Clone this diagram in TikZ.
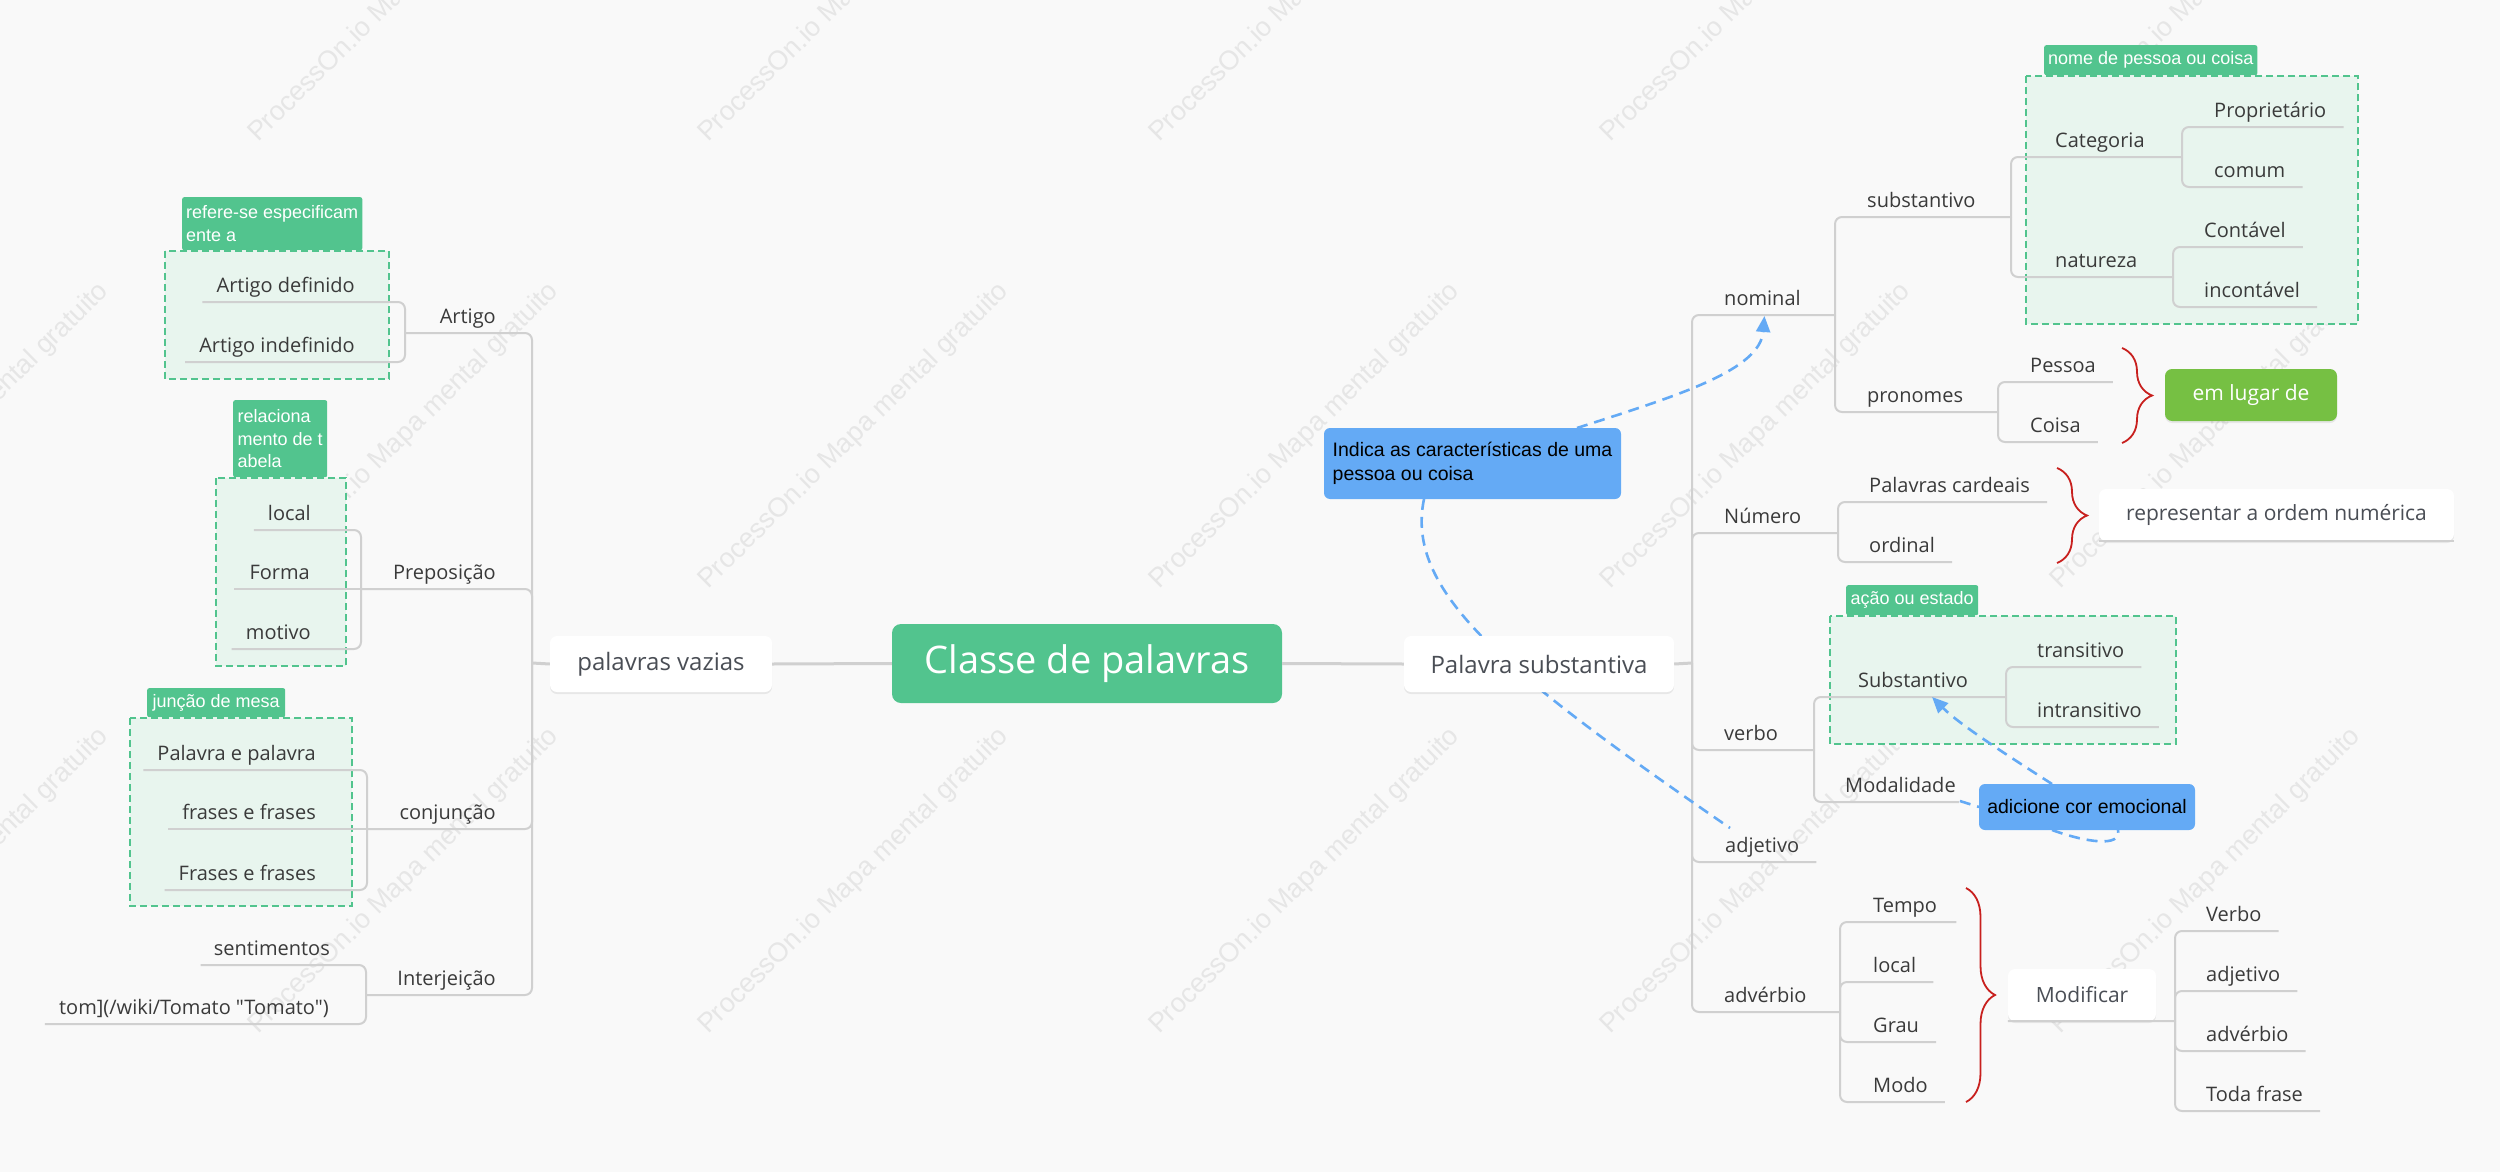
\documentclass[tikz,border=0pt]{standalone}
\usepackage{fontspec}
\setmainfont{Open Sans}
\newfontfamily\nomapfont{Open Sans}[Ligatures=TeXOff]
\newfontfamily\arialf{Liberation Sans}
\usetikzlibrary{calc,arrows.meta,decorations.pathreplacing,shadows}
\definecolor{bg}{HTML}{F9F9F9}
\definecolor{connc}{HTML}{D0D0D0}
\definecolor{txt}{HTML}{3A3A3A}
\definecolor{boxtxt}{HTML}{4A4E55}
\definecolor{grpc}{HTML}{52C48E}
\definecolor{grpfill}{HTML}{E8F5EE}
\definecolor{bluec}{HTML}{64AAF5}
\definecolor{lgreen}{HTML}{76C043}
\definecolor{bracec}{HTML}{C8201E}
\definecolor{wmc}{HTML}{E6E6E6}
\newcommand\lblfont{\fontsize{20}{23}\selectfont}
\newcommand\boxfont{\fontsize{21}{25}\selectfont}
\newcommand\lvafont{\fontsize{24}{28}\selectfont}
\newcommand\rootfont{\fontsize{38}{44}\selectfont}
\newcommand\tagfont{\arialf\fontsize{18}{22.5}\selectfont}
\newcommand\bluefont{\arialf\fontsize{19.5}{24}\selectfont}
\newcommand\wmfont{\arialf\fontsize{27}{30}\selectfont}
\tikzset{
  lbl/.style={inner sep=0pt, font=\lblfont, text=txt},
  conn/.style={draw=connc, line width=2pt, rounded corners=7pt},
  trunk/.style={draw=connc, line width=3pt},
  grp/.style={draw=grpc, fill=grpfill, line width=2.5pt, dash pattern=on 7pt off 4pt},
  tagbox/.style={fill=grpc, text=white, font=\tagfont, inner xsep=4pt, inner ysep=0pt, anchor=north west, align=left, rounded corners=2pt},
  wbox/.style={fill=white, rounded corners=7pt, text=boxtxt, inner sep=0pt,
    drop shadow={shadow xshift=0pt, shadow yshift=-2pt, opacity=0.07, fill=black}},
  bluebox/.style={fill=bluec, rounded corners=6pt, text=black, font=\bluefont, inner sep=0pt},
  rel/.style={draw=bluec, line width=2.6pt, dash pattern=on 11pt off 7pt},
  relarrow/.style={rel, -{Triangle[length=16pt,width=14pt]}},
  brc/.style={draw=bracec, line width=1.8pt, decorate, decoration={brace, amplitude=30pt}},
  wm/.style={font=\wmfont, text=wmc, rotate=44.6, anchor=base west, inner sep=0pt},
}
\begin{document}
\begin{tikzpicture}[x=1pt,y=-1pt]
\useasboundingbox (0,0) rectangle (2500,1172);
\clip (0,0) rectangle (2500,1172);
\fill[bg] (0,0) rectangle (2500,1172);

% watermarks
\foreach \wx in {-192,258,708,1159,1610,2060}{
  \foreach \wy in {143,590,1035}{
    \node[wm] (wm\wx-\wy) at (\wx,\wy) {ProcessOn.io Mapa mental gratuito};
  }
}

% group boxes
\draw[grp] (165,251) rectangle (389,379);
\draw[grp] (216,478) rectangle (346,666);
\draw[grp] (130,718) rectangle (352,906);
\draw[grp] (2026,76) rectangle (2358,324);
\draw[grp] (1830,616) rectangle (2176,744);

\node[tagbox, minimum width=180pt, minimum height=53pt] (tagArt) at (182,197) {refere-se especificam\\ente a};
\node[tagbox, minimum width=94pt, minimum height=77pt] (tagPrep) at (233,400) {relaciona\\mento de t\\abela};
\node[tagbox, minimum width=138pt, minimum height=29pt] (tagConj) at (147,688) {junção de mesa};
\node[tagbox, minimum width=212pt, minimum height=30pt] (tagSub) at (2044,45) {nome de pessoa ou coisa};
\node[tagbox, minimum width=132pt, minimum height=30pt] (tagVerb) at (1846,585) {ação ou estado};

% ---------- left tree ----------
\coordinate (jL) at (532,663);
\coordinate (jArt) at (405,333);
\coordinate (jPrep) at (361,589);
\coordinate (jConj) at (367,829);
\coordinate (jInt) at (366,995);

\node[lbl, anchor=base east] (artigo) at (496,323) {Artigo};
\node[lbl, anchor=base east] (artdef) at (355,292) {Artigo definido};
\node[lbl, anchor=base east] (artind) at (355,352) {Artigo indefinido};
\node[lbl, anchor=base east] (prep) at (496,579) {Preposição};
\node[lbl, anchor=base east] (plocal) at (311,520) {local};
\node[lbl, anchor=base east] (pforma) at (310,579) {Forma};
\node[lbl, anchor=base east] (pmotivo) at (311,639) {motivo};
\node[lbl, anchor=base east] (conj) at (496,819) {conjunção};
\node[lbl, anchor=base east] (cpal) at (316,760) {Palavra e palavra};
\node[lbl, anchor=base east] (cfr) at (316,819) {frases e frases};
\node[lbl, anchor=base east] (cFr) at (316,880) {Frases e frases};
\node[lbl, anchor=base east] (interj) at (496,985) {Interjeição};
\node[lbl, anchor=base east] (isent) at (330,955) {sentimentos};
\node[lbl, anchor=base east, font={\nomapfont\lblfont}] (itom) at (329,1014) {tom](/wiki/Tomato "Tomato")};

\draw[conn] (jL) |- (jArt);
\draw[conn] (jL) |- (jPrep);
\draw[conn] (jL) -- (jL |- jConj) -- (jConj);
\draw[conn] (jL) |- (jInt);
\draw[conn] (jArt) |- ($(artdef.base west)+(-14,10)$);
\draw[conn] (jArt) |- ($(artind.base west)+(-14,10)$);
\draw[conn] (jPrep) |- ($(plocal.base west)+(-14,10)$);
\draw[conn] (jPrep) -- ($(pforma.base west)+(-15,10)$);
\draw[conn] (jPrep) |- ($(pmotivo.base west)+(-14,10)$);
\draw[conn] (jConj) |- ($(cpal.base west)+(-14,10)$);
\draw[conn] (jConj) -- ($(cfr.base west)+(-14,10)$);
\draw[conn] (jConj) |- ($(cFr.base west)+(-14,10)$);
\draw[conn] (jInt) |- ($(isent.base west)+(-13,10)$);
\draw[conn] (jInt) |- ($(itom.base west)+(-14,10)$);

% ---------- right tree ----------
\coordinate (jR) at (1692,663);
\coordinate (jNom) at (1835,315);
\coordinate (jSub) at (2011,217);
\coordinate (jCat) at (2182,157);
\coordinate (jNat) at (2173,277);
\coordinate (jPro) at (1998,412);
\coordinate (jNum) at (1838,533);
\coordinate (jVerb) at (1814,750);
\coordinate (jSubv) at (2006,697);
\coordinate (jAdv) at (1840,1012);
\coordinate (jMod) at (2175,1021);

\node[lbl, anchor=base west] (nominal) at (1724,305) {nominal};
\node[lbl, anchor=base west] (substantivo) at (1867,207) {substantivo};
\node[lbl, anchor=base west] (categoria) at (2055,147) {Categoria};
\node[lbl, anchor=base west] (propr) at (2214,117) {Proprietário};
\node[lbl, anchor=base west] (comum) at (2214,177) {comum};
\node[lbl, anchor=base west] (natureza) at (2055,267) {natureza};
\node[lbl, anchor=base west] (contavel) at (2204,237) {Contável};
\node[lbl, anchor=base west] (incontavel) at (2204,297) {incontável};
\node[lbl, anchor=base west] (pronomes) at (1867,402) {pronomes};
\node[lbl, anchor=base west] (pessoa) at (2030,372) {Pessoa};
\node[lbl, anchor=base west] (coisa) at (2030,432) {Coisa};
\node[lbl, anchor=base west] (numero) at (1724,523) {Número};
\node[lbl, anchor=base west] (cardeais) at (1869,492) {Palavras cardeais};
\node[lbl, anchor=base west] (ordinal) at (1869,552) {ordinal};
\node[lbl, anchor=base west] (verbo) at (1724,740) {verbo};
\node[lbl, anchor=base west] (substv) at (1858,687) {Substantivo};
\node[lbl, anchor=base west] (trans) at (2037,657) {transitivo};
\node[lbl, anchor=base west] (intrans) at (2037,717) {intransitivo};
\node[lbl, anchor=base west] (modal) at (1845,792) {Modalidade};
\node[lbl, anchor=base west] (adjet) at (1725,852) {adjetivo};
\node[lbl, anchor=base west] (adverb) at (1724,1002) {advérbio};
\node[lbl, anchor=base west] (tempo) at (1873,912) {Tempo};
\node[lbl, anchor=base west] (alocal) at (1873,972) {local};
\node[lbl, anchor=base west] (grau) at (1873,1032) {Grau};
\node[lbl, anchor=base west] (modo) at (1873,1092) {Modo};
\node[lbl, anchor=base west] (mverbo) at (2206,921) {Verbo};
\node[lbl, anchor=base west] (madj) at (2206,981) {adjetivo};
\node[lbl, anchor=base west] (madv) at (2206,1041) {advérbio};
\node[lbl, anchor=base west] (mtoda) at (2206,1101) {Toda frase};

\draw[conn] (jR) |- (jNom);
\draw[conn] (jR) |- (jNum);
\draw[conn] (jR) |- (jVerb);
\draw[conn] (jR) |- ($(adjet.base east)+(17,10)$);
\draw[conn] (jR) |- (jAdv);
\draw[conn] (jNom) |- (jSub);
\draw[conn] (jNom) |- (jPro);
\draw[conn] (jSub) |- (jCat);
\draw[conn] (jSub) |- (jNat);
\draw[conn] (jCat) |- ($(propr.base east)+(17,10)$);
\draw[conn] (jCat) |- ($(comum.base east)+(17,10)$);
\draw[conn] (jNat) |- ($(contavel.base east)+(17,10)$);
\draw[conn] (jNat) |- ($(incontavel.base east)+(17,10)$);
\draw[conn] (jPro) |- ($(pessoa.base east)+(17,10)$);
\draw[conn] (jPro) |- ($(coisa.base east)+(17,10)$);
\draw[conn] (jNum) |- ($(cardeais.base east)+(17,10)$);
\draw[conn] (jNum) |- ($(ordinal.base east)+(17,10)$);
\draw[conn] (jVerb) |- (jSubv);
\draw[conn] (jVerb) |- ($(modal.base east)+(3,10)$);
\draw[conn] (jSubv) |- ($(trans.base east)+(17,10)$);
\draw[conn] (jSubv) |- ($(intrans.base east)+(17,10)$);
\draw[conn] (jAdv) |- ($(tempo.base east)+(19,10)$);
\draw[conn] (jAdv) |- ($(alocal.base east)+(17,10)$);
\draw[conn] (jAdv) |- ($(grau.base east)+(17,10)$);
\draw[conn] (jAdv) |- ($(modo.base east)+(17,10)$);
\draw[conn] (jMod) |- ($(mverbo.base east)+(17,10)$);
\draw[conn] (jMod) |- ($(madj.base east)+(17,10)$);
\draw[conn] (jMod) |- ($(madv.base east)+(17,10)$);
\draw[conn] (jMod) |- ($(mtoda.base east)+(17,10)$);

% braces
\coordinate (brA1) at (2122,348); \coordinate (brA2) at (2122,443);
\coordinate (brB1) at (2057,468); \coordinate (brB2) at (2057,563);
\coordinate (brC1) at (1966,888); \coordinate (brC2) at (1966,1102);
\draw[brc] (brA1) -- (brA2);
\draw[brc] (brB1) -- (brB2);
\draw[brc, decoration={brace, amplitude=29pt}] (brC1) -- (brC2);

\node[wbox, fill=lgreen, text=white, font=\boxfont, minimum width=172pt, minimum height=52pt] (emlugar) at (2251,395) {em lugar de};
\node[wbox, font=\boxfont, minimum width=355pt, minimum height=52pt] (repres) at (2276.5,515) {representar a ordem numérica};
\draw[conn] (repres.south west) -- (repres.south east);
\node[wbox, font=\boxfont, minimum width=148pt, minimum height=52pt] (modif) at (2082,995) {Modificar};
\draw[conn] (modif.south west) -- (jMod);

% relations (drawn before the notes and level-1 boxes)
\coordinate (relA) at (1577,428);
\coordinate (relB) at (1424,499);
\coordinate (relC) at (2052,784);
\coordinate (relD) at (2052,830);
\coordinate (relE) at (2118,830);
\draw[relarrow] (relA) .. controls (1680,395) and (1760,370) .. ($(nominal.base)+(2,11)$);
\draw[rel] (relB) .. controls (1405,590) and (1500,670) .. ($(adjet.base west)+(5,-24)$);
\draw[relarrow] (relC) .. controls (2010,757) and (1960,725) .. ($(substv.base)+(19,10)$);
\draw[rel] ($(modal.base east)+(4,9)$) -- (1979,807);
\draw[rel] (relD) .. controls (2085,842) and (2122,848) .. (relE);

\node[bluebox, minimum width=297pt, minimum height=71pt, align=left] (indica) at (1472.5,463.5) {Indica as características de uma\\pessoa ou coisa};
\node[bluebox, minimum width=216pt, minimum height=46pt] (adic) at (2087,807) {adicione cor emocional};

% level 1 and root
\node[wbox, font=\lvafont, minimum width=222pt, minimum height=56pt] (vazias) at (661,664) {palavras vazias};
\node[wbox, font=\lvafont, minimum width=270pt, minimum height=56pt] (subst) at (1539,664) {Palavra substantiva};
\node[fill=grpc, rounded corners=9pt, text=white, font=\rootfont, minimum width=390pt, minimum height=79pt, inner sep=0pt] (root) at (1087,663.5) {Classe de palavras};
\draw[trunk] (vazias.west) -- (jL);
\draw[trunk] (subst.east) -- (jR);
\draw[trunk] (vazias.east) -- (root.west);
\draw[trunk] (root.east) -- (subst.west);
\end{tikzpicture}
\end{document}
